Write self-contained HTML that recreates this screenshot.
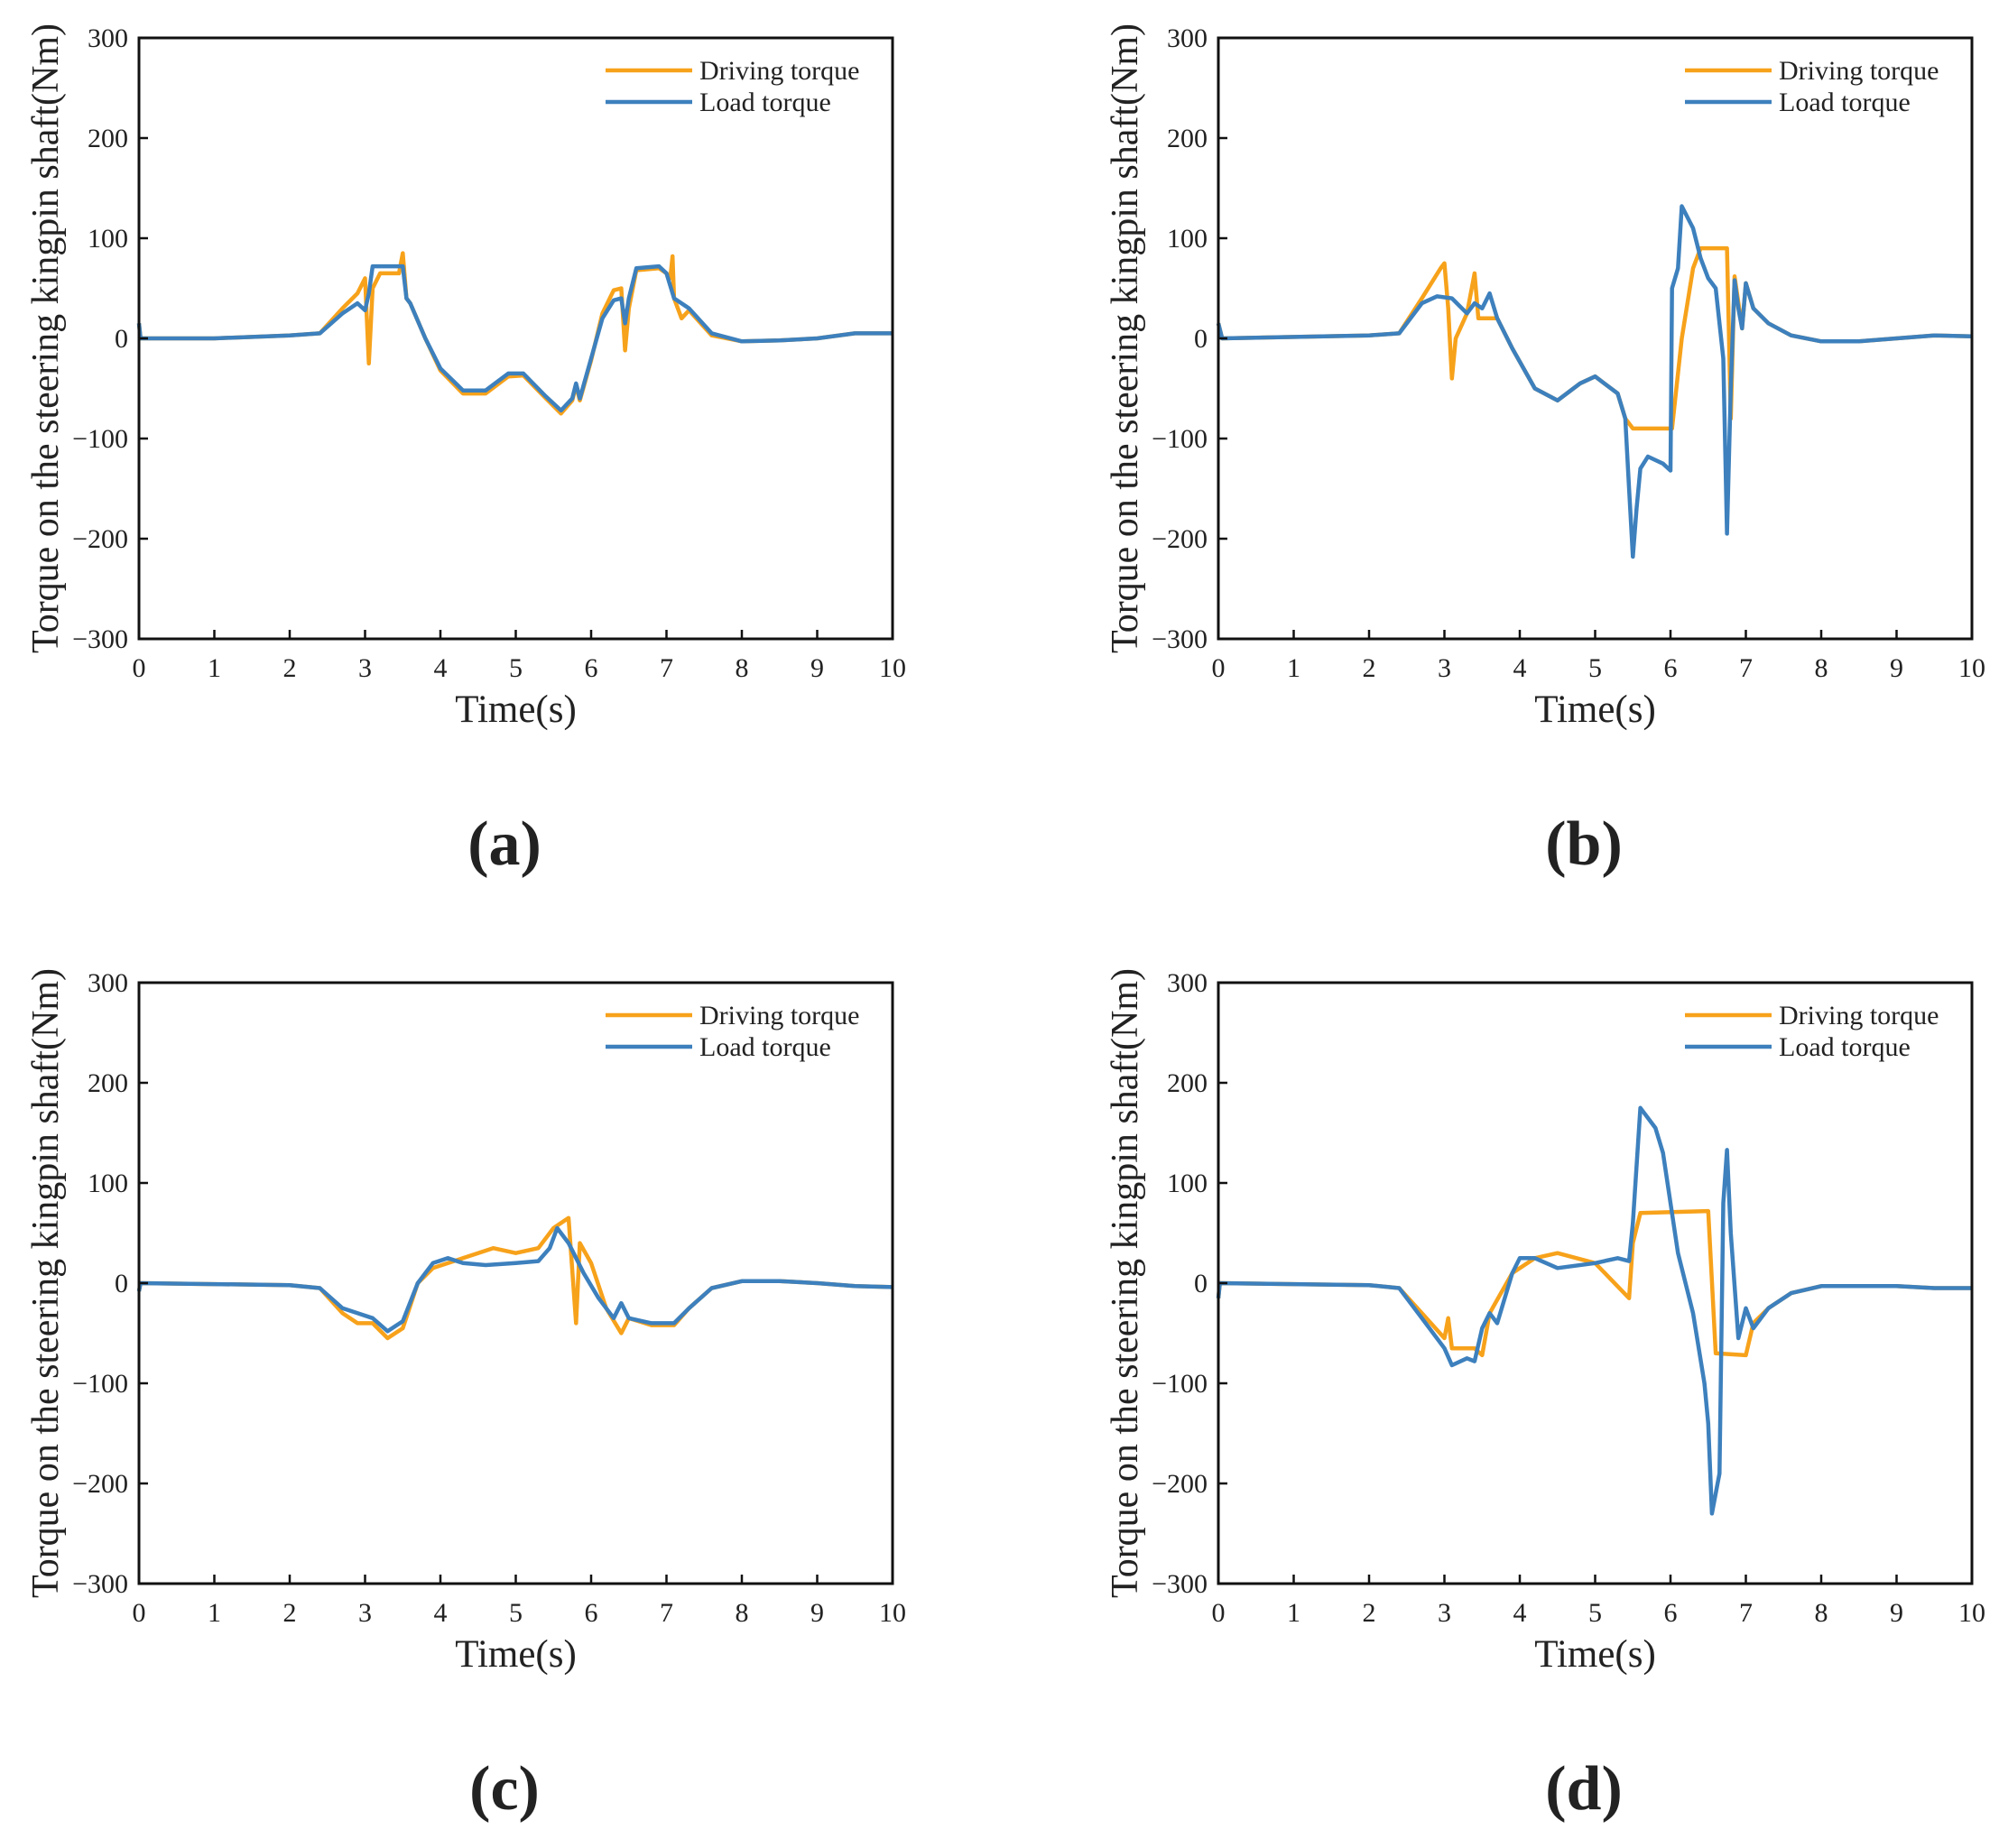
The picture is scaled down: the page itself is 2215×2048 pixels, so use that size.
<!DOCTYPE html>
<html><head><meta charset="utf-8"><style>
body{margin:0;background:#fff}
svg text{font-family:"Liberation Serif",serif;fill:#222}
</style></head><body>
<svg id="fig" width="2215" height="2043" viewBox="0 0 2215 2043" xmlns="http://www.w3.org/2000/svg"></svg>
<script>
const xTicks=[0,1,2,3,4,5,6,7,8,9,10];
const yTicks=[-300,-200,-100,0,100,200,300];
const yTickLabels=["\u2212300","\u2212200","\u2212100","0","100","200","300"];
const panelLabels=["(a)","(b)","(c)","(d)"];
const aDrivT=[0,0.02,1,2,2.4,2.7,2.9,3.0,3.05,3.1,3.2,3.45,3.5,3.55,3.6,3.8,4,4.3,4.6,4.9,5.1,5.4,5.6,5.75,5.8,5.85,6,6.15,6.3,6.4,6.45,6.5,6.6,6.9,7.0,7.05,7.08,7.1,7.2,7.3,7.6,8,8.5,9,9.5,10];
const aDrivV=[15,0,0,3,5,30,45,60,-25,50,65,65,85,40,35,0,-32,-55,-55,-38,-37,-60,-75,-62,-47,-62,-22,25,48,50,-12,30,68,70,65,60,82,40,20,28,3,-3,-2,0,5,5];
const aLoadT=[0,0.02,1,2,2.4,2.7,2.9,3.0,3.05,3.1,3.5,3.55,3.6,3.8,4,4.3,4.6,4.9,5.1,5.4,5.6,5.75,5.8,5.85,6,6.15,6.3,6.4,6.45,6.5,6.6,6.9,7.0,7.1,7.3,7.6,8,8.5,9,9.5,10];
const aLoadV=[15,0,0,3,5,25,35,28,45,72,72,40,35,0,-30,-52,-52,-35,-35,-58,-72,-60,-45,-60,-20,20,38,40,15,40,70,72,65,40,30,5,-3,-2,0,5,5];
const bDrivT=[0,0.05,2,2.4,2.7,2.95,3.0,3.05,3.1,3.15,3.3,3.4,3.45,3.6,3.7,3.9,4.2,4.5,4.8,5,5.3,5.4,5.5,6.0,6.02,6.15,6.3,6.4,6.75,6.78,6.8,6.85,6.95,7.0,7.1,7.3,7.6,8,8.5,9,9.5,10];
const bDrivV=[15,0,3,5,40,70,75,30,-40,0,25,65,20,20,20,-10,-50,-62,-45,-38,-55,-80,-90,-90,-90,0,70,90,90,-10,-80,62,10,55,30,15,3,-3,-3,0,3,2];
const bLoadT=[0,0.05,2,2.4,2.7,2.9,3.1,3.3,3.4,3.5,3.6,3.7,3.9,4.2,4.5,4.8,5,5.3,5.4,5.45,5.5,5.55,5.6,5.7,5.9,6,6.02,6.1,6.15,6.3,6.4,6.5,6.6,6.7,6.75,6.8,6.85,6.9,6.95,7.0,7.1,7.3,7.6,8,8.5,9,9.5,10];
const bLoadV=[15,0,3,5,35,42,40,25,35,30,45,20,-10,-50,-62,-45,-38,-55,-80,-150,-218,-170,-130,-118,-125,-132,50,70,132,110,80,60,50,-20,-195,-50,58,30,10,55,30,15,3,-3,-3,0,3,2];
const cDrivT=[0,0.02,2,2.4,2.7,2.9,3.1,3.3,3.5,3.7,3.9,4.3,4.5,4.7,5.0,5.3,5.5,5.6,5.7,5.8,5.85,6,6.2,6.4,6.5,6.8,7.1,7.3,7.6,8,8.5,9,9.5,10];
const cDrivV=[-8,0,-2,-5,-30,-40,-40,-55,-45,0,15,25,30,35,30,35,55,60,65,-40,40,20,-25,-50,-35,-42,-42,-25,-5,2,2,0,-3,-4];
const cLoadT=[0,0.02,2,2.4,2.7,2.9,3.1,3.3,3.5,3.7,3.9,4.1,4.3,4.6,5,5.3,5.45,5.55,5.7,5.9,6.1,6.3,6.4,6.5,6.8,7.1,7.3,7.6,8,8.5,9,9.5,10];
const cLoadV=[-8,0,-2,-5,-25,-30,-35,-48,-38,0,20,25,20,18,20,22,35,55,40,10,-15,-35,-20,-35,-40,-40,-25,-5,2,2,0,-3,-4];
const dDrivT=[0,0.02,2,2.4,2.7,3.0,3.05,3.1,3.4,3.5,3.6,3.9,4.2,4.5,5.0,5.45,5.5,5.6,6.5,6.6,7.0,7.1,7.3,7.6,8,9,9.5,10];
const dDrivV=[-15,0,-2,-5,-30,-55,-35,-65,-65,-72,-30,10,25,30,20,-15,40,70,72,-70,-72,-40,-25,-10,-3,-3,-5,-5];
const dLoadT=[0,0.02,2,2.4,2.7,3.0,3.1,3.3,3.4,3.5,3.6,3.7,3.9,4.0,4.2,4.5,5.0,5.3,5.45,5.5,5.6,5.8,5.9,6.1,6.3,6.45,6.5,6.55,6.65,6.7,6.75,6.8,6.9,7.0,7.1,7.3,7.6,8,9,9.5,10];
const dLoadV=[-15,0,-2,-5,-35,-65,-82,-75,-78,-45,-30,-40,10,25,25,15,20,25,22,60,175,155,130,30,-30,-100,-140,-230,-190,80,133,50,-55,-25,-45,-25,-10,-3,-3,-5,-5];
const series=[[aDrivT,aDrivV,aLoadT,aLoadV],[bDrivT,bDrivV,bLoadT,bLoadV],[cDrivT,cDrivV,cLoadT,cLoadV],[dDrivT,dDrivV,dLoadT,dLoadV]];
const NS="http://www.w3.org/2000/svg",svg=document.getElementById('fig');
function mk(tag,at,par){const e=document.createElementNS(NS,tag);for(const k in at)e.setAttribute(k,at[k]);(par||svg).appendChild(e);return e;}
const boxes=[[154,42],[1350,42],[154,1089],[1350,1089]];
const W=835,H=666;
boxes.forEach((b,pi)=>{
 const [L,T]=b;
 const g=mk('g',{});
 
 
 const xs=t=>L+t/10*W, ys=v=>T+(300-v)/600*H;
 const [dt,dv,lt,lv]=series[pi];
 const mkLine=(tt,vv,col,name)=>{let d='';tt.forEach((t,i)=>{d+=(i?'L':'M')+xs(t).toFixed(1)+' '+ys(vv[i]).toFixed(1);});
  const p=mk('path',{d:d,fill:'none',stroke:col,'stroke-width':4.5,'stroke-linejoin':'round'},g);
  
  };
 mkLine(dt,dv,'#F7A21B','driving-torque-line');
 mkLine(lt,lv,'#3D80BD','load-torque-line');
 const fr=mk('rect',{x:L,y:T,width:W,height:H,fill:'none',stroke:'#111','stroke-width':3},g);
 
 
 xTicks.forEach(t=>{mk('line',{x1:xs(t),x2:xs(t),y1:T+H,y2:T+H-10,stroke:'#111','stroke-width':2.5},g);
  const tx=mk('text',{x:xs(t),y:T+H+42,'font-size':30,'text-anchor':'middle'},g);tx.textContent=t;
  
  });
 yTicks.forEach((v,i)=>{mk('line',{x1:L,x2:L+10,y1:ys(v),y2:ys(v),stroke:'#111','stroke-width':2.5},g);
  const tx=mk('text',{x:L-12,y:ys(v)+10,'font-size':30,'text-anchor':'end'},g);tx.textContent=yTickLabels[i];
  
  });
 const xt=mk('text',{x:L+W/2,y:T+H+92,'font-size':43,'text-anchor':'middle'},g);xt.textContent='Time(s)';
 
 
 const yt=mk('text',{x:0,y:0,'font-size':42,'text-anchor':'middle',transform:`translate(${L-90},${T+H/2}) rotate(-90)`},g);yt.textContent='Torque on the steering kingpin shaft(Nm)';
 
 
 [['Driving torque','#F7A21B',36],['Load torque','#3D80BD',71]].forEach(([lab,col,dy])=>{
  const le=mk('g',{},g);
  
  
  mk('line',{x1:L+517,x2:L+613,y1:T+dy,y2:T+dy,stroke:col,'stroke-width':4.5},le);
  const tx=mk('text',{x:L+621,y:T+dy+10,'font-size':30},le);tx.textContent=lab;});
 const pl=mk('text',{x:L+405,y:T+H+250,'font-size':70,'font-weight':'bold','text-anchor':'middle'},g);pl.textContent=panelLabels[pi];
 
 
});
</script>
</body></html>
